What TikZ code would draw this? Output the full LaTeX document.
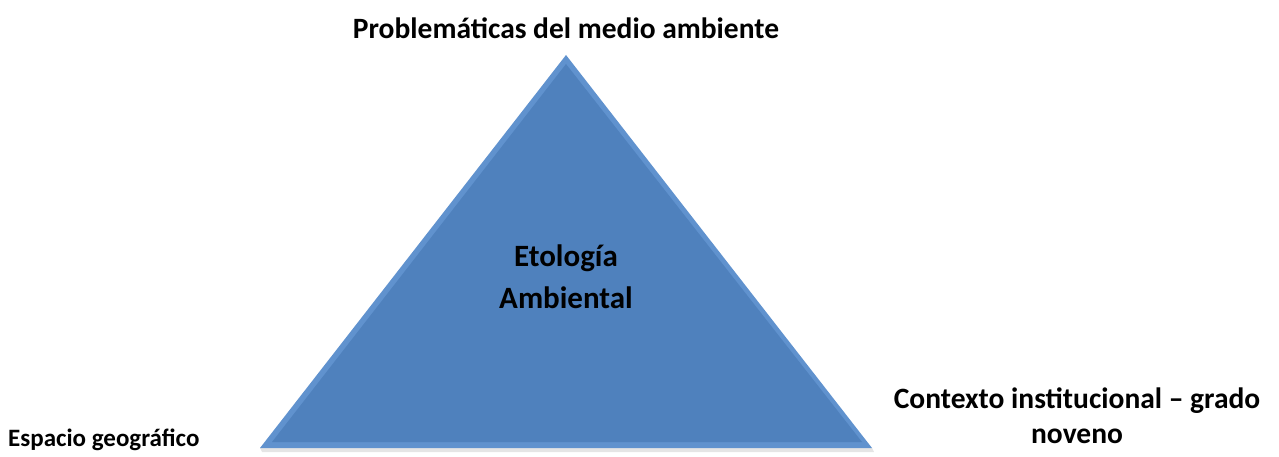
\documentclass[tikz,border=0pt]{standalone}
\usepackage{fontspec}
\setmainfont{Carlito}
\begin{document}
\begin{tikzpicture}[x=1pt,y=1pt,
  lbl/.style={font=\bfseries\fontsize{29.5}{35}\selectfont, text=black, inner sep=0pt, align=center}]
\definecolor{triblue}{RGB}{79,129,189}
\definecolor{trilight}{RGB}{96,146,206}
\useasboundingbox (0,0) rectangle (1279,456);
% shadow
\fill[black!10] (262,4) -- (874,4) -- (872,8) -- (260,8) -- cycle;
% triangle
\coordinate (A) at (566,401);
\coordinate (B) at (260,8);
\coordinate (C) at (872,8);
\fill[trilight] (A) -- (B) -- (C) -- cycle;
\fill[triblue] (566,392) -- (272,14) -- (862,14) -- cycle;
\node[lbl] (top) at (566,428) {Problemáticas del medio ambiente};
\node[lbl, font=\bfseries\fontsize{31}{42}\selectfont] (mid) at (566,179) {Etología\\Ambiental};
\node[lbl] (right) at (1077,40.5) {Contexto institucional – grado\\noveno};
\node[lbl, anchor=west, font=\bfseries\fontsize{25}{30}\selectfont] (left) at (8,16) {Espacio geográfico};
\end{tikzpicture}
\end{document}
